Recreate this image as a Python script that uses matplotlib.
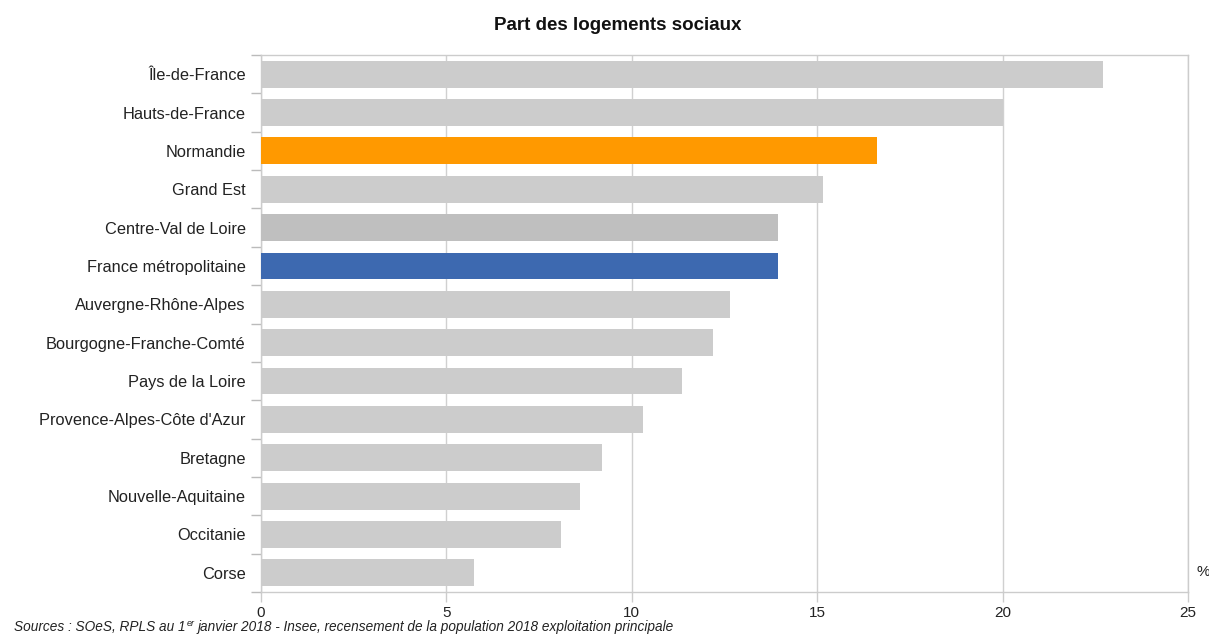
import matplotlib
matplotlib.use("Agg")
import matplotlib.pyplot as plt
import numpy as np

plt.rcParams['font.family'] = ['Liberation Sans', 'DejaVu Sans']

regions = ["Île-de-France", "Hauts-de-France", "Normandie", "Grand Est",
           "Centre-Val de Loire", "France métropolitaine", "Auvergne-Rhône-Alpes",
           "Bourgogne-Franche-Comté", "Pays de la Loire", "Provence-Alpes-Côte d'Azur",
           "Bretagne", "Nouvelle-Aquitaine", "Occitanie", "Corse"]
part = [22.7, 20.0, 16.6, 15.15, 13.95, 13.95, 12.65,
        12.2, 11.35, 10.3, 9.2, 8.6, 8.1, 5.75]
couleurs = {"Normandie": "#ff9900", "France métropolitaine": "#3d69b0",
            "Centre-Val de Loire": "#bfbfbf"}
xticks = [0, 5, 10, 15, 20, 25]

fig = plt.figure(figsize=(12.09, 6.35), dpi=100)
ax = fig.add_axes([261/1209, 1-592/635, (1188-261)/1209, (592-55)/635])

y = np.arange(len(regions))
cols = [couleurs.get(r, "#cccccc") for r in regions]
ax.barh(y, part, height=0.7, color=cols, zorder=3)

ax.set_ylim(len(regions)-0.5, -0.5)
ax.set_xlim(0, 25)
ax.set_yticks(y)
ax.set_yticklabels(regions, fontsize=11.8, color="#222222")
ax.set_yticks(np.arange(len(regions)+1)-0.5, minor=True)
ax.tick_params(axis='y', which='major', length=0, pad=11)
ax.tick_params(axis='y', which='minor', length=7, color="#bbbbbb", width=1)
ax.set_xticks(xticks)
ax.set_xticklabels([str(t) for t in xticks], fontsize=11, color="#222222")
ax.tick_params(axis='x', length=7, color="#cccccc", width=1, pad=3)
ax.grid(axis='x', color="#d0d0d0", linewidth=1, zorder=0)

for s in ax.spines.values():
    s.set_color("#cccccc")
    s.set_linewidth(1)

fig.text(618/1209, 1-25/635, "Part des logements sociaux", ha='center', va='center',
         fontsize=13.5, fontweight='bold', color="#111111")
fig.text(1203/1209, 1-572/635, "%", ha='center', va='center', fontsize=11, color="#222222")

# source : "er" en exposant, placé après le texte précédent
r = fig.canvas.get_renderer()
t1 = fig.text(14/1209, 1-627/635, "Sources : SOeS, RPLS au 1", ha='left', va='center',
              fontsize=9.8, style='italic', color="#222222")
x2 = t1.get_window_extent(r).x1 + 1
t2 = fig.text(x2/1209, 1-623/635, "er", ha='left', va='center',
              fontsize=6.5, style='italic', color="#222222")
x3 = t2.get_window_extent(r).x1 + 3
fig.text(x3/1209, 1-627/635,
         "janvier 2018 - Insee, recensement de la population 2018 exploitation principale",
         ha='left', va='center', fontsize=9.8, style='italic', color="#222222")

fig.savefig("out.png", dpi=100)
